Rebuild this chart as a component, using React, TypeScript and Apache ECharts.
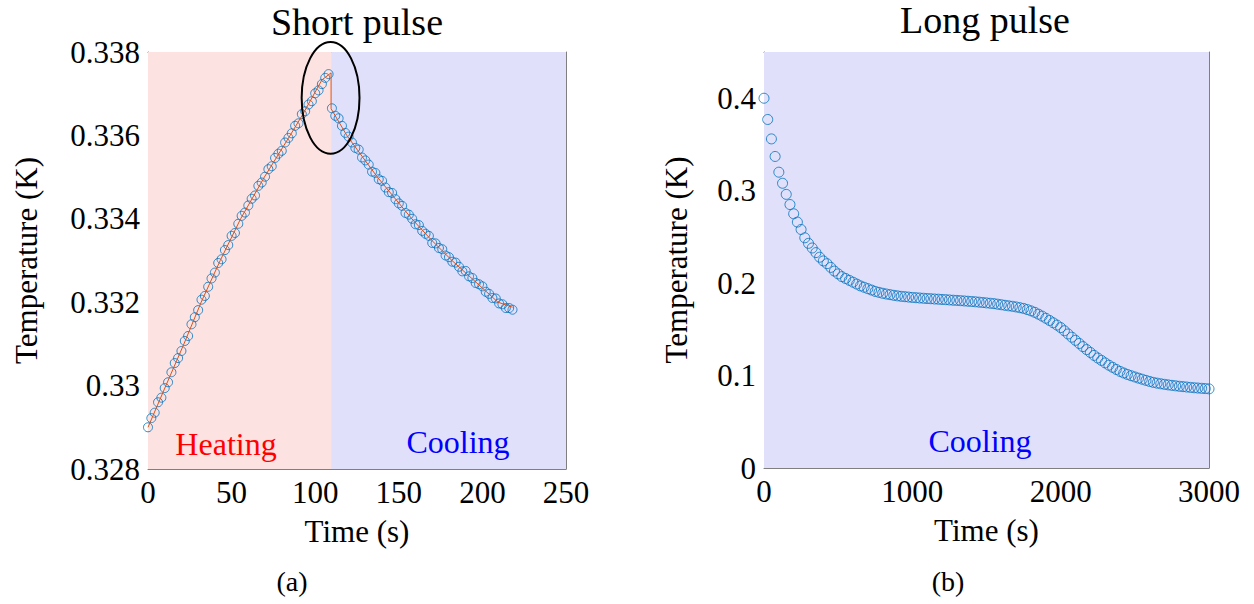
import { useEffect, useRef } from "react";
import * as echarts from "echarts";

// ---------- Data: (a) Short pulse ----------
const shortHeatTime = [
  0, 2, 4, 6, 8, 10, 12, 14, 16, 18, 20, 22, 24, 26, 28, 30, 32, 34, 36, 38,
  40, 42, 44, 46, 48, 50, 52, 54, 56, 58, 60, 62, 64, 66, 68, 70, 72, 74, 76, 78,
  80, 82, 84, 86, 88, 90, 92, 94, 96, 98, 100, 102, 104, 106, 108,
];
const shortHeatTemp = [
  0.329, 0.32922, 0.32935, 0.3296, 0.32971, 0.32994, 0.33008, 0.33032, 0.33054, 0.33066,
  0.33083, 0.33107, 0.33119, 0.33147, 0.33164, 0.33181, 0.33206, 0.33215, 0.33237, 0.33257,
  0.33271, 0.33294, 0.33303, 0.33325, 0.33337, 0.33359, 0.33366, 0.33388, 0.33407, 0.33415,
  0.33432, 0.33448, 0.33456, 0.33479, 0.33487, 0.33501, 0.33519, 0.33526, 0.33546, 0.33556,
  0.33563, 0.33583, 0.33594, 0.33605, 0.33623, 0.33629, 0.33651, 0.33658, 0.33674, 0.33682,
  0.33701, 0.33708, 0.33723, 0.33738, 0.33747,
];
const shortCoolTime = [
  110, 112, 114, 116, 118, 120, 122, 124, 126, 128, 130, 132, 134, 136, 138, 140, 142, 144,
  146, 148, 150, 152, 154, 156, 158, 160, 162, 164, 166, 168, 170, 172, 174, 176, 178, 180,
  182, 184, 186, 188, 190, 192, 194, 196, 198, 200, 202, 204, 206, 208, 210, 212, 214, 216, 218,
];
const shortCoolTemp = [
  0.33665, 0.33647, 0.33641, 0.33623, 0.33606, 0.33597, 0.33583, 0.3357, 0.33566, 0.33547,
  0.3354, 0.3353, 0.33513, 0.3351, 0.33495, 0.33491, 0.33475, 0.33464, 0.33462, 0.33447,
  0.33437, 0.33431, 0.33414, 0.3341, 0.334, 0.33387, 0.33385, 0.33371, 0.33364, 0.33359,
  0.33342, 0.33341, 0.3333, 0.33327, 0.33312, 0.33308, 0.33297, 0.33295, 0.33285, 0.33274,
  0.33275, 0.33262, 0.33258, 0.33246, 0.33243, 0.33238, 0.33225, 0.3322, 0.3321, 0.33209,
  0.33197, 0.33195, 0.33186, 0.33186, 0.33182,
];
// fitted curve (orange line), including the jump when heating stops
const shortFitTime = [
  0, 10.7, 21.5, 31.8, 43.2, 55.4, 69.6, 85, 92.5, 104, 109.5,
  109.5, 118.9, 128, 137.2, 147.5, 157.8, 169.3, 181.8, 195.6, 209.3, 218,
];
const shortFitTemp = [
  0.329, 0.33, 0.331, 0.332, 0.333, 0.334, 0.335, 0.336, 0.3365, 0.33733, 0.3375,
  0.33664, 0.336, 0.3355, 0.335, 0.3345, 0.334, 0.3335, 0.333, 0.3325, 0.332, 0.33188,
];
const heatingEnd = 109.5;

// ---------- Data: (b) Long pulse ----------
const longTime = [
  0, 25, 50, 75, 100, 125, 150, 175, 200, 225, 250, 275, 300, 325, 350, 375,
  400, 425, 450, 475, 500, 525, 550, 575, 600, 625, 650, 675, 700, 725, 750, 775,
  800, 825, 850, 875, 900, 925, 950, 975, 1000, 1025, 1050, 1075, 1100, 1125, 1150, 1175,
  1200, 1225, 1250, 1275, 1300, 1325, 1350, 1375, 1400, 1425, 1450, 1475, 1500, 1525, 1550, 1575,
  1600, 1625, 1650, 1675, 1700, 1725, 1750, 1775, 1800, 1825, 1850, 1875, 1900, 1925, 1950, 1975,
  2000, 2025, 2050, 2075, 2100, 2125, 2150, 2175, 2200, 2225, 2250, 2275, 2300, 2325, 2350, 2375,
  2400, 2425, 2450, 2475, 2500, 2525, 2550, 2575, 2600, 2625, 2650, 2675, 2700, 2725, 2750, 2775,
  2800, 2825, 2850, 2875, 2900, 2925, 2950, 2975, 3000,
];
const longTemp = [
  0.4, 0.377, 0.356, 0.337, 0.32, 0.308, 0.296, 0.285,
  0.275, 0.266, 0.258, 0.249, 0.243, 0.238, 0.233, 0.228,
  0.224, 0.221, 0.217, 0.213, 0.21, 0.207, 0.205, 0.203,
  0.201, 0.199, 0.197, 0.1955, 0.194, 0.1925, 0.191, 0.19,
  0.189, 0.1882, 0.1875, 0.1868, 0.1862, 0.1857, 0.1853, 0.1849,
  0.1845, 0.1842, 0.1839, 0.1836, 0.1833, 0.1831, 0.1828, 0.1826,
  0.1823, 0.1821, 0.1818, 0.1815, 0.1813, 0.181, 0.1807, 0.1804,
  0.1801, 0.1798, 0.1794, 0.179, 0.1786, 0.1782, 0.1778, 0.1772,
  0.1766, 0.176, 0.1754, 0.1749, 0.1742, 0.1734, 0.1726, 0.1714,
  0.17, 0.1684, 0.1664, 0.1643, 0.162, 0.1596, 0.1571, 0.1546,
  0.1519, 0.1485, 0.145, 0.1415, 0.1381, 0.1347, 0.1313, 0.1281,
  0.125, 0.1218, 0.119, 0.1164, 0.1137, 0.1112, 0.1089, 0.1066,
  0.1045, 0.1028, 0.1012, 0.0998, 0.0985, 0.0972, 0.096, 0.0948,
  0.0936, 0.0926, 0.0918, 0.0911, 0.0905, 0.0899, 0.0894, 0.0889,
  0.0884, 0.088, 0.0876, 0.0872, 0.0868, 0.0865, 0.0862, 0.0859,
  0.0856,
];

// annotation ellipse (data coords of panel a)
const ellipseCenter = [109.2, 0.3369];
const ellipseHalf = [17.3, 0.00134];

const SERIF = '"Liberation Serif", "Times New Roman", serif';
const AXIS_GREY = "#7f7f7f";
const MARKER_BLUE = "#0072BD";
const FIT_ORANGE = "#D95319";
const PINK = "#fde2e2";
const LAVENDER = "#e0e0fa";

const fmt = (v: number) => String(parseFloat(v.toFixed(4)));

function makeAxes(
  gridIndex: number,
  x: [number, number, number],
  y: [number, number, number],
  yNameGap: number
) {
  const lineStyle = { color: AXIS_GREY, width: 1 };
  const tick = { show: true, inside: true, length: 5, lineStyle: { color: AXIS_GREY } };
  const label = { color: "#000", fontFamily: SERIF, fontSize: 31 };
  const nameStyle = { color: "#000", fontFamily: SERIF, fontSize: 31 };
  const xAxes = [
    {
      type: "value", gridIndex, min: x[0], max: x[1], interval: x[2], position: "bottom",
      axisLine: { show: true, onZero: false, lineStyle },
      axisTick: tick,
      axisLabel: { ...label, margin: 8, formatter: fmt },
      splitLine: { show: false },
      name: "Time (s)", nameLocation: "middle", nameGap: 47, nameTextStyle: nameStyle,
    },
    {
      type: "value", gridIndex, min: x[0], max: x[1], interval: x[2], position: "top",
      axisLine: { show: true, onZero: false, lineStyle },
      axisTick: tick, axisLabel: { show: false }, splitLine: { show: false },
    },
  ];
  const yAxes = [
    {
      type: "value", gridIndex, min: y[0], max: y[1], interval: y[2], position: "left",
      axisLine: { show: true, onZero: false, lineStyle },
      axisTick: tick,
      axisLabel: { ...label, margin: 8, formatter: fmt, showMaxLabel: y[1] / y[2] % 1 < 1e-6 || true },
      splitLine: { show: false },
      name: "Temperature (K)", nameLocation: "middle", nameGap: yNameGap, nameTextStyle: nameStyle,
    },
    {
      type: "value", gridIndex, min: y[0], max: y[1], interval: y[2], position: "right",
      axisLine: { show: true, onZero: false, lineStyle },
      axisTick: tick, axisLabel: { show: false }, splitLine: { show: false },
    },
  ];
  return { xAxes, yAxes };
}

export default function App() {
  const ref = useRef<HTMLDivElement>(null);

  useEffect(() => {
    if (!ref.current) return;
    const chart = echarts.init(ref.current, undefined, { renderer: "svg" });

    const a = makeAxes(0, [0, 250, 50], [0.328, 0.338, 0.002], 106);
    const b = makeAxes(1, [0, 3000, 1000], [0, 0.45, 0.1], 72);
    // hide the 0.45 label on panel b
    (b.yAxes[0] as any).axisLabel.formatter = (v: number) => (v > 0.41 ? "" : fmt(v));

    const shortData = [
      ...shortHeatTime.map((t, i) => [t, shortHeatTemp[i]]),
      ...shortCoolTime.map((t, i) => [t, shortCoolTemp[i]]),
    ];
    const fitData = shortFitTime.map((t, i) => [t, shortFitTemp[i]]);
    const longData = longTime.map((t, i) => [t, longTemp[i]]);

    const openCircle = (size: number) => ({
      symbol: "circle",
      symbolSize: size,
      itemStyle: { color: "rgba(0,0,0,0)", borderColor: MARKER_BLUE, borderWidth: 1 },
    });

    chart.setOption({
      animation: false,
      grid: [
        { left: 148, top: 52, width: 418, height: 417 },
        { left: 764, top: 52, width: 445, height: 416 },
      ],
      xAxis: [...a.xAxes, ...b.xAxes.map((ax) => ({ ...ax, gridIndex: 1 }))],
      yAxis: [...a.yAxes, ...b.yAxes.map((ax) => ({ ...ax, gridIndex: 1 }))],
      series: [
        {
          type: "scatter",
          xAxisIndex: 0,
          yAxisIndex: 0,
          data: shortData,
          ...openCircle(9),
          z: 2,
          markArea: {
            silent: true,
            data: [
              [{ xAxis: 0, yAxis: 0.328, itemStyle: { color: PINK } }, { xAxis: heatingEnd, yAxis: 0.338 }],
              [{ xAxis: heatingEnd, yAxis: 0.328, itemStyle: { color: LAVENDER } }, { xAxis: 250, yAxis: 0.338 }],
            ],
          },
        },
        {
          type: "line",
          xAxisIndex: 0,
          yAxisIndex: 0,
          data: fitData,
          symbol: "none",
          showSymbol: false,
          lineStyle: { color: FIT_ORANGE, width: 1 },
          z: 3,
        },
        {
          type: "scatter",
          xAxisIndex: 2,
          yAxisIndex: 2,
          data: longData,
          ...openCircle(10),
          z: 2,
          markArea: {
            silent: true,
            data: [
              [{ xAxis: 0, yAxis: 0, itemStyle: { color: LAVENDER } }, { xAxis: 3000, yAxis: 0.45 }],
            ],
          },
        },
      ],
    });

    let ell = { cx: 330.5, cy: 98, rx: 29, ry: 56 };
    try {
      const c = chart.convertToPixel({ xAxisIndex: 0, yAxisIndex: 0 } as any, ellipseCenter) as number[];
      const e = chart.convertToPixel({ xAxisIndex: 0, yAxisIndex: 0 } as any, [
        ellipseCenter[0] + ellipseHalf[0],
        ellipseCenter[1] + ellipseHalf[1],
      ]) as number[];
      if (c && e && isFinite(c[0]) && isFinite(e[1])) {
        ell = { cx: c[0], cy: c[1], rx: Math.abs(e[0] - c[0]), ry: Math.abs(e[1] - c[1]) };
      }
    } catch (err) {
      /* keep defaults */
    }

    const txt = (text: string, x: number, y: number, size: number, fill: string) => ({
      type: "text",
      x,
      y,
      z: 10,
      style: {
        text,
        fill,
        font: `${size}px ${SERIF}`,
        textAlign: "center",
        textVerticalAlign: "middle",
      },
    });

    chart.setOption({
      graphic: [
        {
          type: "ellipse",
          z: 10,
          shape: ell,
          style: { fill: "none", stroke: "#000", lineWidth: 2 },
        },
        txt("Short pulse", 357, 22, 38, "#000"),
        txt("Long pulse", 985, 20, 38, "#000"),
        txt("Heating", 226, 444, 32, "#ff0000"),
        txt("Cooling", 458, 442, 32, "#0000ff"),
        txt("Cooling", 980, 441, 32, "#0000ff"),
        txt("(a)", 292, 581, 28, "#000"),
        txt("(b)", 948, 581, 28, "#000"),
      ],
    });

    return () => chart.dispose();
  }, []);

  return (
    <div
      ref={ref}
      style={{ position: "absolute", left: 0, top: 0, width: 1254, height: 604, background: "#fff" }}
    />
  );
}
